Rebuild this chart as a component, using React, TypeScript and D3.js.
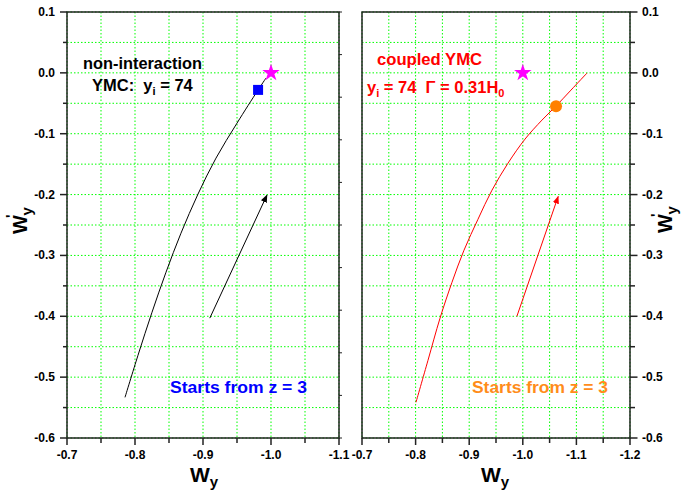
import React from 'react';
import * as d3 from 'd3';

// ---- data ----
const leftCurve: [number, number][] = [
  [-0.7853, -0.5332], [-0.8044, -0.4641], [-0.825, -0.3934], [-0.8456, -0.3276],
  [-0.8676, -0.2635], [-0.8926, -0.1993], [-0.9191, -0.1401], [-0.95, -0.0826],
  [-0.9809, -0.0283], [-0.9926, -0.0086],
];
const leftArrow: [number, number][] = [[-0.91, -0.403], [-0.994, -0.201]];
const leftSquare: [number, number] = [-0.981, -0.028];
const leftStar: [number, number] = [-1.0, 0.0];

const rightCurve: [number, number][] = [
  [-0.8007, -0.5414], [-0.8231, -0.4724], [-0.8455, -0.4033], [-0.8679, -0.3441],
  [-0.8903, -0.2914], [-0.9164, -0.2405], [-0.9425, -0.1928], [-0.9724, -0.1484],
  [-1.0041, -0.1089], [-1.0358, -0.0776], [-1.0619, -0.0546], [-1.0899, -0.0283],
  [-1.1198, -0.0003],
];
const rightArrow: [number, number][] = [[-0.989, -0.4], [-1.066, -0.203]];
const rightCircle: [number, number] = [-1.062, -0.055];
const rightStar: [number, number] = [-1.0, 0.0];

const yTicks = [0.1, 0.0, -0.1, -0.2, -0.3, -0.4, -0.5, -0.6];
const leftXTicks = [-0.7, -0.8, -0.9, -1.0, -1.1];
const rightXTicks = [-0.7, -0.8, -0.9, -1.0, -1.1, -1.2];

const FONT = 'Arial, "Liberation Sans", Helvetica, sans-serif';
const TOP = 12;
const BOTTOM = 438;

const fmt = (v: number) => (Math.abs(v) < 1e-9 ? '0.0' : v.toFixed(1));

function range(a: number, b: number, step: number) {
  const out: number[] = [];
  const n = Math.round((b - a) / step);
  for (let i = 0; i <= n; i++) out.push(+(a + i * step).toFixed(4));
  return out;
}

const isMajor = (v: number) => Math.abs(Math.round(v * 10) - v * 10) < 1e-6;

const starPath = d3.symbol().type(d3.symbolStar).size(95)() as string;

export default function App() {
  const yScale = d3.scaleLinear().domain([0.1, -0.6]).range([TOP, BOTTOM]);
  const xL = d3.scaleLinear().domain([-0.7, -1.1]).range([67, 339]);
  const xR = d3.scaleLinear().domain([-0.7, -1.2]).range([362, 630]);

  const yGrid = range(-0.6, 0.1, 0.05);
  const xGridL = range(-1.1, -0.7, 0.05);
  const xGridR = range(-1.2, -0.7, 0.05);

  const lineL = d3.line<[number, number]>().x(d => xL(d[0])).y(d => yScale(d[1])).curve(d3.curveCatmullRom);
  const lineR = d3.line<[number, number]>().x(d => xR(d[0])).y(d => yScale(d[1])).curve(d3.curveCatmullRom);

  const grid = (xs: d3.ScaleLinear<number, number>, xg: number[]) => (
    <g stroke="#00ff00" strokeWidth={1} strokeDasharray="1.5,2">
      {yGrid.map((v, i) => (
        <line key={'h' + i} x1={xs.range()[0]} x2={xs.range()[1]} y1={yScale(v)} y2={yScale(v)} />
      ))}
      {xg.map((v, i) => (
        <line key={'v' + i} x1={xs(v)} x2={xs(v)} y1={TOP} y2={BOTTOM} />
      ))}
    </g>
  );

  const axisColor = '#222';

  const yTitle = (tx: number, ty: number) => (
    <g transform={`translate(${tx},${ty}) rotate(-90)`}>
      <text x={0} y={0} fontSize={20} fontWeight="bold" fill="#000">W<tspan dx={-3} dy={-11} fontSize={15}>'</tspan><tspan dx={-1} dy={16} fontSize={15}>y</tspan></text>
    </g>
  );

  return (
    <svg width={683} height={499} style={{ position: 'absolute', left: 0, top: 0, background: '#fff' }}
      fontFamily={FONT}>
      <defs>
        <marker id="arrB" viewBox="0 0 10 10" refX="9" refY="5" markerWidth="8" markerHeight="8" orient="auto" markerUnits="userSpaceOnUse">
          <path d="M0,1 L10,5 L0,9 Z" fill="#000" />
        </marker>
        <marker id="arrR" viewBox="0 0 10 10" refX="9" refY="5" markerWidth="8" markerHeight="8" orient="auto" markerUnits="userSpaceOnUse">
          <path d="M0,1 L10,5 L0,9 Z" fill="#ff0000" />
        </marker>
      </defs>
      <rect x={0} y={0} width={683} height={499} fill="#fff" />

      {/* LEFT PANEL */}
      {grid(xL, xGridL)}
      <path d={lineL(leftCurve) || ''} fill="none" stroke="#000" strokeWidth={1} />
      <path d={d3.line()(leftArrow.map(d => [xL(d[0]), yScale(d[1])] as [number, number])) || ''}
        fill="none" stroke="#000" strokeWidth={1} markerEnd="url(#arrB)" />
      <rect x={xL(leftSquare[0]) - 5} y={yScale(leftSquare[1]) - 5} width={10} height={10} fill="#0000ff" />
      <path d={starPath} transform={`translate(${xL(leftStar[0])},${yScale(leftStar[1])})`} fill="#ff00ff" />

      <rect x={67} y={TOP} width={272} height={BOTTOM - TOP} fill="none" stroke={axisColor} strokeWidth={1.5} />
      {yGrid.map((v, i) => (
        <line key={'lyt' + i} x1={67} x2={67 - (isMajor(v) ? 7 : 4)} y1={yScale(v)} y2={yScale(v)} stroke={axisColor} strokeWidth={1.5} />
      ))}
      {yTicks.map((v, i) => (
        <text key={'lyl' + i} x={55} y={yScale(v) + 4} textAnchor="end" fontSize={12} fontWeight="bold" fill="#000">{fmt(v)}</text>
      ))}
      {d3.range(0, 11).map(i => {
        const y = TOP + (i * (BOTTOM - TOP)) / 10;
        return <line key={'lrt' + i} x1={339} x2={342} y1={y} y2={y} stroke={axisColor} strokeWidth={1} />;
      })}
      {xGridL.map((v, i) => (
        <line key={'lxt' + i} x1={xL(v)} x2={xL(v)} y1={BOTTOM} y2={BOTTOM + (isMajor(v) ? 7 : 5)} stroke={axisColor} strokeWidth={1.5} />
      ))}
      {leftXTicks.map((v, i) => (
        <text key={'lxl' + i} x={xL(v)} y={459} textAnchor="middle" fontSize={12} fontWeight="bold" fill="#000">{fmt(v)}</text>
      ))}

      {/* RIGHT PANEL */}
      {grid(xR, xGridR)}
      <path d={lineR(rightCurve) || ''} fill="none" stroke="#ff0000" strokeWidth={1} />
      <path d={d3.line()(rightArrow.map(d => [xR(d[0]), yScale(d[1])] as [number, number])) || ''}
        fill="none" stroke="#ff0000" strokeWidth={1} markerEnd="url(#arrR)" />
      <circle cx={xR(rightCircle[0])} cy={yScale(rightCircle[1])} r={6} fill="#ff8000" />
      <path d={starPath} transform={`translate(${xR(rightStar[0])},${yScale(rightStar[1])})`} fill="#ff00ff" />

      <rect x={362} y={TOP} width={268} height={BOTTOM - TOP} fill="none" stroke={axisColor} strokeWidth={1.5} />
      {yGrid.map((v, i) => (
        <line key={'ryt' + i} x1={630} x2={630 + (isMajor(v) ? 7.5 : 5)} y1={yScale(v)} y2={yScale(v)} stroke={axisColor} strokeWidth={1.5} />
      ))}
      {yTicks.map((v, i) => (
        <text key={'ryl' + i} x={642} y={yScale(v) + 4} textAnchor="start" fontSize={12} fontWeight="bold" fill="#000">{fmt(v)}</text>
      ))}
      {xGridR.map((v, i) => (
        <line key={'rxt' + i} x1={xR(v)} x2={xR(v)} y1={BOTTOM} y2={BOTTOM + (isMajor(v) ? 7 : 5)} stroke={axisColor} strokeWidth={1.5} />
      ))}
      {rightXTicks.map((v, i) => (
        <text key={'rxl' + i} x={xR(v)} y={459} textAnchor="middle" fontSize={12} fontWeight="bold" fill="#000">{fmt(v)}</text>
      ))}

      {/* Axis titles */}
      <text x={190} y={482} fontSize={21} fontWeight="bold" fill="#000">W<tspan dy={5} fontSize={15}>y</tspan></text>
      <text x={481} y={482} fontSize={21} fontWeight="bold" fill="#000">W<tspan dy={5} fontSize={15}>y</tspan></text>
      {yTitle(27, 234)}
      {yTitle(672, 233)}

      {/* annotations */}
      <text x={83} y={69} fontSize={16.5} fontWeight="bold" fill="#000" textLength={119} lengthAdjust="spacingAndGlyphs">non-interaction</text>
      <text x={92} y={91} fontSize={16.5} fontWeight="bold" fill="#000" xmlSpace="preserve">YMC:  y<tspan dy={4} fontSize={11}>i</tspan><tspan dy={-4}> = 74</tspan></text>
      <text x={377} y={65} fontSize={16.5} fontWeight="bold" fill="#ff0000" textLength={105} lengthAdjust="spacingAndGlyphs">coupled YMC</text>
      <text x={367} y={93} fontSize={16.5} fontWeight="bold" fill="#ff0000" xmlSpace="preserve">y<tspan dy={4} fontSize={11}>i</tspan><tspan dy={-4}> = 74  Γ = 0.31H</tspan><tspan dy={4} fontSize={11}>0</tspan></text>
      <text x={170} y={393} fontSize={16.5} fontWeight="bold" fill="#0000ff" textLength={137} lengthAdjust="spacingAndGlyphs">Starts from z = 3</text>
      <text x={472} y={393} fontSize={16.5} fontWeight="bold" fill="#ff8c1a" textLength={136} lengthAdjust="spacingAndGlyphs">Starts from z = 3</text>
    </svg>
  );
}
